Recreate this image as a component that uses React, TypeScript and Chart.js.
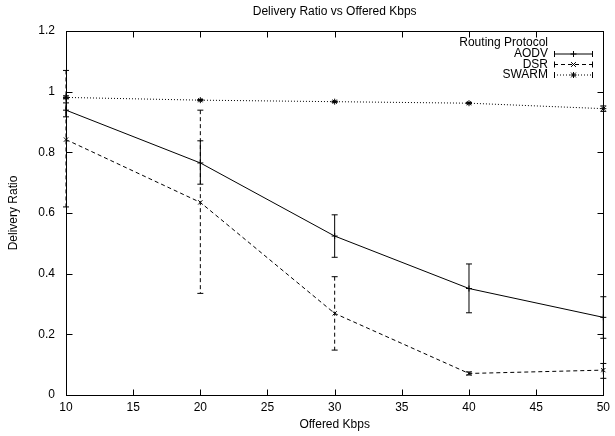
import React, { useEffect, useRef } from 'react';
import { Chart, registerables } from 'chart.js';

Chart.register(...registerables);

const TITLE = 'Delivery Ratio vs Offered Kbps';
const X_TITLE = 'Offered Kbps';
const Y_TITLE = 'Delivery Ratio';
const LEGEND_TITLE = 'Routing Protocol';

const X_VALUES = [10, 20, 30, 40, 50];
const Y_TICK_LABELS = ['0', '0.2', '0.4', '0.6', '0.8', '1', '1.2'];

const AODV = [0.939, 0.765, 0.524, 0.351, 0.256];
const AODV_LOW = [0.917, 0.695, 0.454, 0.271, 0.187];
const AODV_HIGH = [0.963, 0.838, 0.594, 0.432, 0.324];

const DSR = [0.842, 0.635, 0.269, 0.071, 0.082];
const DSR_LOW = [0.62, 0.335, 0.148, 0.066, 0.055];
const DSR_HIGH = [1.07, 0.939, 0.39, 0.076, 0.104];

const SWARM = [0.981, 0.972, 0.967, 0.962, 0.944];
const SWARM_LOW = [0.977, 0.970, 0.965, 0.960, 0.935];
const SWARM_HIGH = [0.986, 0.974, 0.969, 0.964, 0.953];

const FONT = '"Liberation Sans", Arial, Helvetica, sans-serif';

const SERIES = [
  { label: 'AODV', values: AODV, low: AODV_LOW, high: AODV_HIGH, dash: [] as number[], marker: 'cross' },
  { label: 'DSR', values: DSR, low: DSR_LOW, high: DSR_HIGH, dash: [4, 3], marker: 'crossRot' },
  { label: 'SWARM', values: SWARM, low: SWARM_LOW, high: SWARM_HIGH, dash: [1, 2], marker: 'star' },
];

function drawMarker(ctx: CanvasRenderingContext2D, kind: string, x: number, y: number, r: number) {
  ctx.save();
  ctx.setLineDash([]);
  ctx.beginPath();
  if (kind === 'cross' || kind === 'star') {
    ctx.moveTo(x - r, y);
    ctx.lineTo(x + r, y);
    ctx.moveTo(x, y - r);
    ctx.lineTo(x, y + r);
  }
  if (kind === 'crossRot' || kind === 'star') {
    const d = r * 0.8;
    ctx.moveTo(x - d, y - d);
    ctx.lineTo(x + d, y + d);
    ctx.moveTo(x - d, y + d);
    ctx.lineTo(x + d, y - d);
  }
  ctx.stroke();
  ctx.restore();
}

const decorPlugin = {
  id: 'gnuplotDecor',
  beforeDatasetsDraw(chart: any) {
    const { ctx, chartArea: a, scales } = chart;
    ctx.save();
    ctx.strokeStyle = '#000';
    ctx.lineWidth = 1;
    ctx.setLineDash([]);
    const L = Math.round(a.left) + 0.5;
    const R = Math.round(a.right) + 0.5;
    const T = Math.round(a.top) + 0.5;
    const B = Math.round(a.bottom) + 0.5;
    ctx.strokeRect(L, T, R - L, B - T);
    const tl = 6;
    ctx.beginPath();
    scales.x.ticks.forEach((t: any) => {
      const px = Math.round(scales.x.getPixelForValue(t.value)) + 0.5;
      ctx.moveTo(px, B);
      ctx.lineTo(px, B - tl);
      ctx.moveTo(px, T);
      ctx.lineTo(px, T + tl);
    });
    scales.y.ticks.forEach((t: any) => {
      const py = Math.round(scales.y.getPixelForValue(t.value)) + 0.5;
      ctx.moveTo(L, py);
      ctx.lineTo(L + tl, py);
      ctx.moveTo(R, py);
      ctx.lineTo(R - tl, py);
    });
    ctx.stroke();

    // error bars
    const cap = 3;
    SERIES.forEach((s) => {
      ctx.setLineDash(s.dash);
      ctx.beginPath();
      X_VALUES.forEach((xv, i) => {
        const px = scales.x.getPixelForValue(xv);
        const pl = scales.y.getPixelForValue(s.low[i]);
        const ph = scales.y.getPixelForValue(s.high[i]);
        ctx.moveTo(px, ph);
        ctx.lineTo(px, pl);
      });
      ctx.stroke();
      ctx.setLineDash([]);
      ctx.beginPath();
      X_VALUES.forEach((xv, i) => {
        const px = scales.x.getPixelForValue(xv);
        const pl = scales.y.getPixelForValue(s.low[i]);
        const ph = scales.y.getPixelForValue(s.high[i]);
        ctx.moveTo(px - cap, ph);
        ctx.lineTo(px + cap, ph);
        ctx.moveTo(px - cap, pl);
        ctx.lineTo(px + cap, pl);
      });
      ctx.stroke();
    });
    ctx.restore();
  },
  afterDatasetsDraw(chart: any) {
    const { ctx, chartArea: a } = chart;
    ctx.save();
    ctx.fillStyle = '#000';
    ctx.strokeStyle = '#000';
    ctx.lineWidth = 1;
    ctx.font = `12px ${FONT}`;
    ctx.textBaseline = 'middle';

    // title
    ctx.textAlign = 'center';
    ctx.fillText(TITLE, (a.left + a.right) / 2, 12);
    // x title
    ctx.fillText(X_TITLE, (a.left + a.right) / 2, 425);
    // y title
    ctx.save();
    ctx.translate(14, (a.top + a.bottom) / 2);
    ctx.rotate(-Math.PI / 2);
    ctx.fillText(Y_TITLE, 0, 0);
    ctx.restore();

    // legend
    const textRight = 548;
    const x1 = 554;
    const x2 = 593;
    ctx.textAlign = 'right';
    ctx.fillText(LEGEND_TITLE, textRight, 43);
    SERIES.forEach((s, i) => {
      const y = 54 + i * 10.5;
      ctx.fillText(s.label, textRight, y);
      ctx.setLineDash(s.dash);
      ctx.beginPath();
      ctx.moveTo(x1, y);
      ctx.lineTo(x2, y);
      ctx.stroke();
      ctx.setLineDash([]);
      ctx.beginPath();
      ctx.moveTo(x1 + 0.5, y - 3);
      ctx.lineTo(x1 + 0.5, y + 3);
      ctx.moveTo(x2 - 0.5, y - 3);
      ctx.lineTo(x2 - 0.5, y + 3);
      ctx.stroke();
      drawMarker(ctx, s.marker, (x1 + x2) / 2, y, 3);
    });
    ctx.restore();
  },
};

export default function App() {
  const ref = useRef<HTMLCanvasElement | null>(null);

  useEffect(() => {
    document.body.style.margin = '0';
    const canvas = ref.current;
    if (!canvas) return;
    const chart = new Chart(canvas, {
      type: 'line',
      data: {
        datasets: SERIES.map((s) => ({
          label: s.label,
          data: X_VALUES.map((x, i) => ({ x, y: s.values[i] })),
          borderColor: '#000',
          backgroundColor: '#000',
          borderWidth: 1,
          borderDash: s.dash,
          pointStyle: s.marker as any,
          pointRadius: 3,
          pointBorderWidth: 1,
          pointBorderColor: '#000',
          pointHoverRadius: 3,
          tension: 0,
          fill: false,
          clip: false as any,
        })),
      },
      options: {
        responsive: false,
        animation: false,
        devicePixelRatio: 1,
        events: [],
        layout: { padding: { top: 31, right: 7.5, left: 0, bottom: 0 } },
        plugins: {
          legend: { display: false },
          title: { display: false },
          tooltip: { enabled: false },
        },
        scales: {
          x: {
            type: 'linear',
            min: 10,
            max: 50,
            grid: { display: false, drawTicks: false },
            border: { display: false },
            ticks: {
              stepSize: 5,
              padding: 5,
              color: '#000',
              font: { family: FONT, size: 12 },
              maxRotation: 0,
              autoSkip: false,
            },
            afterFit: (scale: any) => {
              scale.height = 41;
            },
          },
          y: {
            type: 'linear',
            min: 0,
            max: 1.2,
            grid: { display: false, drawTicks: false },
            border: { display: false },
            ticks: {
              stepSize: 0.2,
              padding: 11,
              color: '#000',
              font: { family: FONT, size: 12 },
              callback: (_v: any, i: number) => Y_TICK_LABELS[i],
            },
            afterFit: (scale: any) => {
              scale.width = 66;
            },
          },
        },
      },
      plugins: [decorPlugin],
    });
    return () => chart.destroy();
  }, []);

  return (
    <div style={{ position: 'fixed', left: 0, top: 0, width: 615, height: 436, background: '#fff' }}>
      <canvas ref={ref} width={615} height={436} style={{ display: 'block' }} />
    </div>
  );
}
